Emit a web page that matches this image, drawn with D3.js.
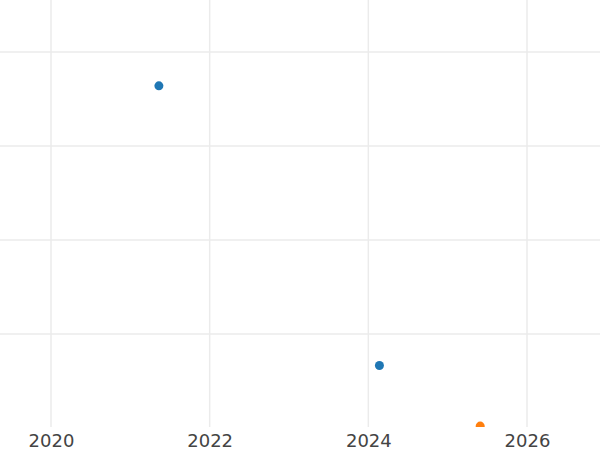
<!DOCTYPE html>
<html>
<head>
<meta charset="utf-8">
<script src="https://cdn.jsdelivr.net/npm/d3@7"></script>
<style>
  html, body { margin: 0; padding: 0; background: #fff; }
  svg { display: block; }
  .xlab { font-family: "DejaVu Sans", Verdana, sans-serif; font-size: 18px; }
</style>
</head>
<body>
<svg id="chart" width="600" height="450"></svg>
<script>
// Data
const seriesNames = ["A", "B"];
const seriesColors = ["#1f77b4", "#ff7f0e"];
const pointYears = [2021.36, 2024.14, 2025.41];
const pointValues = [36.4, 6.65, 0.2];
const pointSeries = [0, 0, 1];
const xTicks = [2020, 2022, 2024, 2026];
const yGrid = [10, 20, 30, 40];

const W = 600, H = 450;
const plotTop = 0, plotBottom = 427;
const svg = d3.select("#chart");

const x = d3.scaleLinear()
  .domain([2020, 2026])
  .range([51, 527]);
x.domain([x.invert(0), x.invert(W)]).range([0, W]);

const y = d3.scaleLinear()
  .domain([0, 10])
  .range([428, 334]);

svg.append("defs").append("clipPath").attr("id", "clip")
  .append("rect").attr("x", 0).attr("y", plotTop).attr("width", W).attr("height", plotBottom - plotTop);

const grid = svg.append("g");
grid.selectAll("line.h").data(yGrid).join("line")
  .attr("class", "h")
  .attr("x1", 0).attr("x2", W)
  .attr("y1", d => y(d)).attr("y2", d => y(d))
  .attr("stroke", "#ebebeb").attr("stroke-width", 1.5);
grid.selectAll("line.v").data(xTicks).join("line")
  .attr("class", "v")
  .attr("x1", d => x(d)).attr("x2", d => x(d))
  .attr("y1", plotTop).attr("y2", plotBottom)
  .attr("stroke", "#ebebeb").attr("stroke-width", 1.5);

const xAxis = d3.axisBottom(x).tickValues(xTicks).tickFormat(d3.format("d")).tickSize(0).tickPadding(0);
const ax = svg.append("g").attr("transform", `translate(0,${plotBottom})`).call(xAxis);
ax.attr("font-family", null).attr("font-size", null);
ax.select(".domain").remove();
ax.selectAll("text")
  .attr("class", "xlab")
  .attr("dy", null)
  .attr("y", 20)
  .attr("fill", "#444");

const pts = pointYears.map((d, i) => ({ x: d, v: pointValues[i], s: pointSeries[i] }));
svg.append("g").attr("clip-path", "url(#clip)")
  .selectAll("circle").data(pts).join("circle")
  .attr("cx", d => x(d.x))
  .attr("cy", d => y(d.v))
  .attr("r", 4.5)
  .attr("fill", d => seriesColors[d.s]);
</script>
</body>
</html>
